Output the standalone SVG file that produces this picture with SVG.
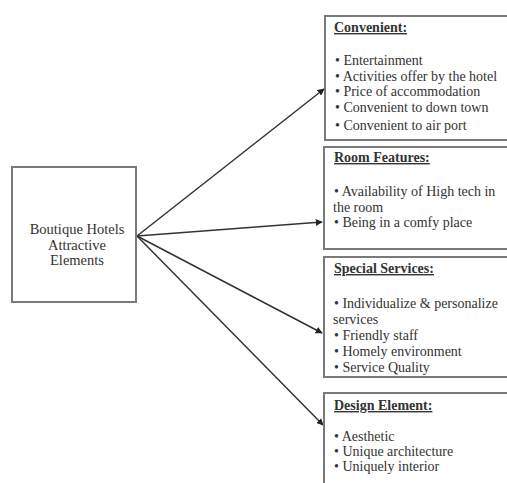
<svg xmlns="http://www.w3.org/2000/svg" width="507" height="483" viewBox="0 0 507 483">
<style>
.box{fill:#fff;stroke:#7a7a7a;stroke-width:2}
.t{font-family:"Liberation Serif","Times New Roman",serif;font-size:14px;fill:#333}
.h{font-weight:bold;text-decoration:underline}
.c{text-anchor:middle;font-size:14.5px}
.conn{stroke:#333;stroke-width:1.5;fill:none;marker-end:url(#ah)}
</style>
<defs>
<marker id="ah" viewBox="0 0 10 10" refX="9" refY="5" markerWidth="7" markerHeight="7" markerUnits="userSpaceOnUse" orient="auto">
<path d="M0,0 L10,5 L0,10 z" fill="#222"/>
</marker>
</defs>
<rect width="507" height="483" fill="#fff"/>
<g id="connectors">
<line class="conn" x1="137" y1="236" x2="324" y2="89"/>
<line class="conn" x1="137" y1="236" x2="322" y2="222"/>
<line class="conn" x1="137" y1="236" x2="322" y2="333"/>
<line class="conn" x1="137" y1="236" x2="323" y2="425"/>
</g>
<g id="center">
<rect class="box" x="12" y="167" width="124" height="135"/>
<text class="t c" x="77" y="234">Boutique Hotels</text>
<text class="t c" x="77" y="249.5">Attractive</text>
<text class="t c" x="77" y="265">Elements</text>
</g>
<g id="convenient">
<rect class="box" x="325" y="16" width="190" height="124"/>
<text class="t h" x="334" y="32">Convenient:</text>
<text class="t" x="335" y="65">• Entertainment</text>
<text class="t" x="335" y="81">• Activities offer by the hotel</text>
<text class="t" x="335" y="96">• Price of accommodation</text>
<text class="t" x="335" y="112">• Convenient to down town</text>
<text class="t" x="335" y="130">• Convenient to air port</text>
</g>
<g id="room">
<rect class="box" x="324" y="147" width="191" height="102"/>
<text class="t h" x="334" y="162">Room Features:</text>
<text class="t" x="334" y="196">• Availability of High tech in</text>
<text class="t" x="333" y="212">the room</text>
<text class="t" x="334" y="227">• Being in a comfy place</text>
</g>
<g id="special">
<rect class="box" x="324" y="257" width="191" height="120"/>
<text class="t h" x="334" y="273">Special Services:</text>
<text class="t" x="334" y="308">• Individualize &amp; personalize</text>
<text class="t" x="333" y="324">services</text>
<text class="t" x="334" y="340">• Friendly staff</text>
<text class="t" x="334" y="356">• Homely environment</text>
<text class="t" x="334" y="372">• Service Quality</text>
</g>
<g id="design">
<rect class="box" x="324" y="393" width="191" height="100"/>
<text class="t h" x="334" y="410">Design Element:</text>
<text class="t" x="334" y="441">• Aesthetic</text>
<text class="t" x="334" y="456">• Unique architecture</text>
<text class="t" x="334" y="471">• Uniquely interior</text>
</g>
</svg>
